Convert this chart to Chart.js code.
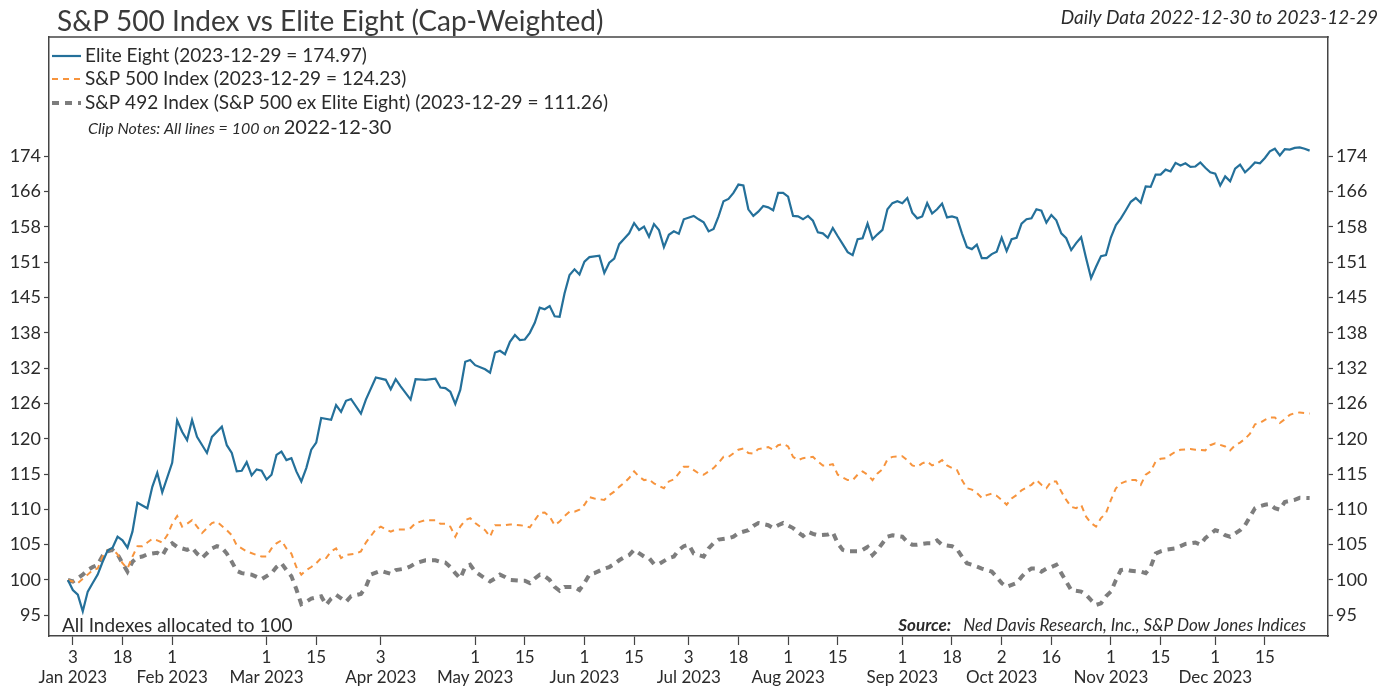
<!DOCTYPE html>
<html>
<head>
<meta charset="utf-8">
<script src="https://cdn.jsdelivr.net/npm/chart.js@4"></script>
<style>
  html, body { margin: 0; padding: 0; background: #fff; }
  #chart { display: block; }
</style>
</head>
<body>
<canvas id="chart" width="1383" height="686"></canvas>
<script>
// trading-day index (0 = 2022-12-30) and value
const eliteEight = [
  [0,100],[1,98.7],[2,98.1],[3,96.0],[4,98.5],[5,99.6],[6,100.7],[7,102.4],[8,103.9],[9,104.3],[10,105.8],[11,105.3],[12,104.3],[13,106.5],[14,110.6],[15,110.2],[16,109.8],[17,112.9],[18,115.0],[19,112.1],[21,116.5],[22,123.1],[23,121.3],[24,120.0],[25,123.2],[26,120.5],[28,118.0],[29,120.5],[31,122.1],[32,119.2],[33,118.0],[34,115.2],[35,115.3],[36,116.6],[37,114.6],[38,115.5],[39,115.3],[40,114.0],[41,114.7],[42,117.7],[43,118.2],[44,116.9],[45,117.2],[46,115.2],[47,113.7],[48,115.7],[49,118.5],[50,119.6],[51,123.5],[53,123.2],[54,125.6],[55,124.5],[56,126.3],[57,126.6],[59,124.2],[60,126.5],[62,130.2],
  [63,130.0],[64,129.8],[65,128.2],[66,129.9],[67,128.7],[69,126.5],[70,129.9],[72,129.8],[74,130.0],[75,128.5],[76,128.4],[77,127.8],[78,125.8],[79,128.1],[80,132.9],[81,133.2],[82,132.3],[84,131.6],[85,131.0],[86,134.5],[87,134.8],[88,134.2],[89,136.4],[90,137.6],[91,136.7],[92,136.8],[93,138.0],[94,139.8],[95,142.6],[96,142.3],[97,142.9],[98,141.0],[99,140.9],[100,145.3],[101,148.8],[102,149.9],[103,148.9],[104,151.4],[105,152.3],[107,152.6],[108,149.2],[109,151.2],[110,152.0],[111,154.9],[112,156.0],[113,157.1],[114,159.2],[115,157.8],[116,158.5],[117,156.4],[118,159.0],[119,157.8],[120,154.3],[121,156.8],[122,157.5],[123,157.0],[124,160.0],[126,160.7],[127,160.0],[128,159.4],[129,157.5],
  [130,158.0],[131,160.6],[132,163.8],[133,164.3],[134,165.6],[135,167.4],[136,167.2],[137,162.1],[138,160.7],[139,161.6],[140,162.8],[141,162.5],[142,161.9],[143,165.6],[144,165.6],[145,164.8],[146,160.7],[147,160.6],[148,160.0],[149,160.7],[150,159.7],[151,157.3],[152,157.1],[153,156.2],[154,158.2],[155,156.5],[156,154.9],[157,153.3],[158,152.7],[159,155.9],[160,156.1],[161,159.1],[162,155.9],[163,156.9],[164,157.8],[165,162.1],[166,163.4],[167,163.8],[168,163.4],[169,164.5],[170,161.4],[171,160.2],[172,160.6],[173,163.4],[174,161.2],[175,162.1],[176,163.3],[177,160.4],[178,160.6],[179,160.3],[180,157.1],[181,154.3],[182,153.9],[183,154.8],[184,152.1],[185,152.1],[186,152.9],[187,153.4],[188,156.2],[189,153.5],[190,155.9],[191,156.2],[192,159.1],[193,160.0],
  [194,160.2],[195,162.1],[196,161.8],[197,159.3],[198,160.9],[199,159.8],[200,157.1],[201,156.1],[202,153.7],[203,155.1],[204,156.3],[205,152.1],[206,148.2],[207,150.4],[208,152.5],[209,152.7],[210,156.3],[211,158.8],[212,160.2],[213,161.9],[214,163.7],[215,164.5],[216,163.5],[217,167.0],[218,166.9],[219,169.6],[220,169.6],[221,170.7],[222,170.3],[223,172.2],[224,171.6],[225,172.1],[226,171.3],[227,171.4],[228,172.3],[229,171.1],[230,170.1],[231,169.8],[232,167.2],[233,169.2],[234,168.1],[235,170.9],[236,171.8],[237,170.1],[238,171.1],[239,172.3],[240,172.1],[241,173.3],[242,174.8],[243,175.4],[244,173.9],[245,175.3],[246,175.2],[247,175.6],[248,175.7],[249,175.4],[250,174.97]
];

const sp500 = [
  [0,100],[2,99.6],[4,100.7],[5,101.3],[6,101.5],[7,103.1],[8,104.0],[9,104.1],[10,103.4],[11,102.2],[12,101.5],[13,103.1],[14,104.5],[15,104.5],[16,105.0],[17,105.5],[18,105.3],[19,105.0],[20,106.0],[21,107.6],[22,108.7],[23,107.2],[24,107.6],[25,108.1],[26,107.2],[27,106.3],[28,107.0],[29,107.7],[30,107.9],[32,106.7],[33,106.0],[34,104.6],[35,104.2],[36,103.8],[38,103.3],[39,103.1],[40,103.1],[41,104.2],[42,104.9],[43,105.3],[44,104.2],[45,103.5],[46,101.7],[47,100.7],[48,101.3],[49,101.7],[50,102.2],[51,102.9],[52,102.9],[53,103.8],[54,104.2],[55,102.9],[56,103.3],[58,103.5],[59,103.8],[60,105.0],[61,105.9],[62,106.8],
  [63,107.2],[64,106.8],[65,106.5],[66,106.8],[68,106.8],[69,107.0],[70,107.7],[71,107.9],[72,108.1],[74,108.1],[75,107.6],[76,107.6],[77,107.2],[78,105.8],[79,107.2],[80,108.1],[81,108.4],[82,107.7],[84,106.7],[85,105.8],[86,107.4],[87,107.4],[88,107.4],[89,107.5],[91,107.4],[92,107.3],[93,107.1],[94,108.1],[95,109.1],[96,109.2],[97,108.6],[98,107.4],[99,107.9],[100,108.7],[101,109.3],[102,109.3],[103,109.6],[104,110.3],[105,111.4],[106,111.2],[108,111.0],[109,111.7],[110,112.2],[111,112.9],[112,113.5],[113,114.2],[114,115.2],[115,114.4],[116,113.9],[117,114.0],[118,113.4],[120,112.7],[121,113.7],[122,114.0],[123,114.9],[124,115.9],[125,115.9],[127,114.9],[128,114.7],[129,115.2],
  [130,115.7],[131,116.5],[132,117.4],[133,117.4],[135,118.5],[136,118.7],[137,118.0],[138,117.9],[139,118.6],[141,118.9],[142,118.5],[143,119.2],[144,119.4],[145,119.0],[146,117.4],[147,116.9],[148,117.2],[150,117.4],[151,116.7],[152,116.1],[153,116.1],[154,116.3],[155,114.7],[157,113.9],[158,113.9],[159,114.7],[160,115.2],[161,114.7],[162,113.9],[163,114.9],[164,115.5],[165,117.0],[166,117.4],[168,117.5],[169,116.9],[170,116.1],[171,115.9],[172,116.4],[173,116.7],[174,116.1],[175,116.4],[176,116.9],[177,116.1],[178,115.7],[179,115.4],[180,113.9],[181,112.7],[182,112.5],[183,112.0],[184,111.3],[185,111.7],[186,111.9],[187,111.6],[188,111.0],[189,110.3],[190,111.2],[191,111.7],[192,112.4],
  [194,113.2],[195,113.9],[196,113.2],[197,112.7],[198,113.7],[199,113.7],[200,112.2],[201,111.0],[202,110.0],[203,109.8],[204,110.3],[205,108.6],[206,107.7],[207,107.2],[208,108.4],[209,109.1],[210,111.0],[211,112.7],[212,113.4],[213,113.7],[214,113.9],[215,113.9],[216,113.2],[217,114.7],[218,115.2],[219,116.7],[220,117.1],[221,117.2],[222,117.7],[223,118.2],[224,118.5],[226,118.6],[227,118.5],[229,118.4],[230,119.2],[231,119.5],[233,119.0],[234,118.4],[235,119.2],[236,119.6],[237,120.2],[238,121.0],[239,122.5],[240,122.7],[241,123.2],[242,123.6],[243,123.6],[244,122.7],[245,123.3],[246,124.0],[247,124.3],[248,124.4],[250,124.23]
];

const sp492 = [
  [0,100],[1,99.8],[3,100.7],[4,101.3],[5,101.7],[6,102.0],[7,103.2],[8,103.8],[9,104.0],[10,103.4],[11,102.2],[12,101.1],[13,102.4],[14,103.0],[15,103.1],[16,103.4],[18,103.6],[19,103.2],[20,104.4],[21,104.9],[22,104.4],[24,104.0],[25,104.3],[26,103.5],[27,102.9],[29,104.2],[30,104.5],[31,104.3],[32,103.5],[33,102.4],[34,101.2],[35,100.9],[37,100.7],[38,100.4],[39,100.1],[41,100.9],[42,101.7],[43,102.2],[44,101.3],[45,100.5],[46,98.8],[47,96.9],[48,97.2],[49,97.6],[51,97.9],[52,96.8],[53,97.6],[54,98.1],[56,97.2],[57,97.9],[59,98.2],[60,99.1],[61,100.7],
  [63,101.2],[64,101.0],[65,100.8],[66,101.3],[68,101.5],[69,101.8],[70,102.2],[72,102.6],[74,102.6],[75,102.4],[76,102.3],[77,101.7],[78,100.9],[79,100.2],[80,101.7],[81,102.0],[82,101.1],[84,100.2],[85,99.8],[86,100.2],[87,100.7],[88,100.4],[89,100.0],[91,99.9],[92,99.9],[93,99.6],[94,100.2],[95,100.7],[96,100.5],[97,100.0],[98,99.1],[99,98.6],[100,99.1],[102,99.1],[103,98.7],[104,99.6],[105,100.7],[106,100.9],[107,101.2],[108,101.5],[109,101.7],[110,102.1],[111,102.6],[112,103.0],[113,103.3],[114,104.0],[116,103.1],[117,102.9],[118,102.1],[119,102.1],[121,102.9],[122,103.1],[123,104.0],[124,104.5],[125,104.7],[126,103.5],[128,103.1],[129,104.2],
  [130,104.9],[131,105.4],[133,105.6],[134,105.8],[135,106.3],[137,106.7],[138,107.3],[139,107.7],[141,107.4],[142,107.0],[143,107.4],[144,107.7],[146,107.0],[147,106.4],[148,105.9],[149,106.5],[150,106.2],[151,106.0],[153,106.1],[154,106.4],[155,104.9],[156,104.0],[157,103.8],[159,103.8],[160,104.0],[161,104.4],[162,103.3],[163,104.0],[164,104.9],[165,105.8],[166,106.0],[168,105.8],[169,105.1],[170,104.7],[171,104.7],[173,104.9],[174,104.9],[175,105.3],[176,104.7],[178,104.5],[179,104.1],[180,103.1],[181,102.2],[182,102.0],[184,101.5],[185,101.3],[186,101.1],[187,100.4],[188,99.6],[189,99.1],[191,99.6],[192,100.4],[193,101.1],
  [194,101.5],[195,101.5],[196,101.1],[197,101.5],[198,101.7],[199,102.0],[200,100.9],[201,99.8],[202,98.7],[204,98.5],[205,98.1],[206,97.4],[207,96.8],[208,97.0],[209,97.9],[210,98.5],[211,100.0],[212,101.3],[213,101.4],[214,101.2],[216,101.1],[217,100.9],[218,101.7],[219,103.5],[220,103.8],[221,104.0],[223,104.2],[224,104.5],[225,104.8],[227,105.0],[228,104.7],[229,105.6],[231,106.7],[232,106.5],[233,106.0],[234,105.8],[236,106.7],[237,107.4],[238,108.6],[239,109.8],[240,110.1],[241,110.3],[242,110.4],[243,109.8],[244,109.6],[245,110.7],[247,111.0],[248,111.3],[250,111.26]
];

const seriesLabels = [
  'Elite Eight (2023-12-29 = 174.97)',
  'S&P 500 Index (2023-12-29 = 124.23)',
  'S&P 492 Index (S&P 500 ex Elite Eight) (2023-12-29 = 111.26)'
];

// x ticks: trading-day index of each labelled date
const xTickDays = [1, 11, 21, 40, 50, 63, 82, 92, 104, 114, 125, 135, 145, 155, 168, 178, 188, 198, 210, 220, 231, 241];
const xTickDayLabels = ['3', '18', '1', '1', '15', '3', '1', '15', '1', '15', '3', '18', '1', '15', '1', '18', '2', '16', '1', '15', '1', '15'];
const xTickMonthLabels = ['Jan 2023', '', 'Feb 2023', 'Mar 2023', '', 'Apr 2023', 'May 2023', '', 'Jun 2023', '', 'Jul 2023', '', 'Aug 2023', '', 'Sep 2023', '', 'Oct 2023', '', 'Nov 2023', '', 'Dec 2023', ''];

// y ticks on the log axis: evenly spaced steps from 100
const yTickLabels = ['95', '100', '105', '110', '115', '120', '126', '132', '138', '145', '151', '158', '166', '174'];
const yTickStep = 1.0471;

const TEXT = '#2b2b2b';
const AXIS = '#444';
const FONT = 'Lato, "Open Sans", sans-serif';

const toPoints = (rows) => rows.map(([x, y]) => ({ x, y }));

const yTicks = (scale) => {
  scale.ticks = yTickLabels.map((_, k) => ({ value: 100 * Math.pow(yTickStep, k - 1) }));
};

const yAxis = (position, width) => ({
  type: 'logarithmic',
  position,
  min: 92.96,
  max: 202.9,
  afterBuildTicks: yTicks,
  afterFit: (scale) => { scale.width = width; },
  border: { display: true, color: AXIS, width: 1.5 },
  grid: { drawOnChartArea: false, tickLength: 5, tickColor: AXIS, tickWidth: 1.2 },
  ticks: {
    autoSkip: false,
    padding: 3,
    color: TEXT,
    font: { family: FONT, size: 18 },
    callback: (value, index) => yTickLabels[index],
  },
});

const notesPlugin = {
  id: 'notes',
  afterDraw(chart) {
    const { ctx, chartArea } = chart;
    ctx.save();

    // top edge of the frame
    ctx.strokeStyle = AXIS;
    ctx.lineWidth = 1.5;
    ctx.beginPath();
    ctx.moveTo(chartArea.left - 0.75, chartArea.top);
    ctx.lineTo(chartArea.right + 0.75, chartArea.top);
    ctx.stroke();

    ctx.textBaseline = 'alphabetic';
    ctx.fillStyle = '#3a3a3a';
    ctx.font = `28px ${FONT}`;
    ctx.textAlign = 'left';
    ctx.fillText('S&P 500 Index vs Elite Eight (Cap-Weighted)', 57, 31);

    ctx.fillStyle = TEXT;
    ctx.font = `italic 19px ${FONT}`;
    ctx.textAlign = 'right';
    ctx.fillText('Daily Data 2022-12-30 to 2023-12-29', 1378, 24);

    // legend
    const rows = [62, 85, 109];
    chart.data.datasets.forEach((ds, i) => {
      const y = rows[i] - 6;
      ctx.strokeStyle = ds.borderColor;
      ctx.lineWidth = ds.borderWidth;
      ctx.setLineDash(ds.borderDash || []);
      ctx.beginPath();
      ctx.moveTo(52, y);
      ctx.lineTo(81, y);
      ctx.stroke();
      ctx.setLineDash([]);
      ctx.fillStyle = TEXT;
      ctx.font = `19px ${FONT}`;
      ctx.textAlign = 'left';
      ctx.fillText(seriesLabels[i], 85, rows[i]);
    });

    ctx.font = `italic 16px ${FONT}`;
    ctx.fillText('Clip Notes: All lines = 100 on', 88, 134);
    const w = ctx.measureText('Clip Notes: All lines = 100 on ').width;
    ctx.font = `20px ${FONT}`;
    ctx.fillText('2022-12-30', 88 + w, 134);

    ctx.font = `19px ${FONT}`;
    ctx.fillText('All Indexes allocated to 100', 62, 632);

    ctx.textAlign = 'right';
    ctx.font = `italic 17px ${FONT}`;
    const src = 'Ned Davis Research, Inc., S&P Dow Jones Indices';
    ctx.fillText(src, 1306, 631);
    const sw = ctx.measureText(src).width;
    ctx.font = `bold italic 17px ${FONT}`;
    ctx.fillText('Source:', 1306 - sw - 12, 631);

    ctx.restore();
  },
};

const chart = new Chart(document.getElementById('chart').getContext('2d'), {
  type: 'line',
  data: {
    datasets: [
      {
        label: seriesLabels[0],
        data: toPoints(eliteEight),
        borderColor: '#24709a',
        borderWidth: 2.2,
      },
      {
        label: seriesLabels[1],
        data: toPoints(sp500),
        borderColor: '#f7943d',
        borderWidth: 2,
        borderDash: [6, 5],
      },
      {
        label: seriesLabels[2],
        data: toPoints(sp492),
        borderColor: '#7d7d7d',
        borderWidth: 4,
        borderDash: [7, 6],
      },
    ],
  },
  options: {
    responsive: false,
    animation: false,
    devicePixelRatio: 1,
    layout: { padding: { top: 37, left: 0, right: 0, bottom: 0 } },
    elements: {
      point: { radius: 0, hoverRadius: 0 },
      line: { tension: 0, borderCapStyle: 'butt' },
    },
    scales: {
      x: {
        type: 'linear',
        position: 'bottom',
        min: -3.8,
        max: 253.7,
        afterBuildTicks: (scale) => {
          scale.ticks = xTickDays.map((value) => ({ value }));
        },
        afterFit: (scale) => { scale.height = 50; },
        border: { display: true, color: AXIS, width: 1.5 },
        grid: { drawOnChartArea: false, tickLength: 9, tickColor: AXIS, tickWidth: 1.2 },
        ticks: {
          autoSkip: false,
          maxRotation: 0,
          padding: 2,
          color: TEXT,
          font: { family: FONT, size: 17, lineHeight: 1.2 },
          callback: (value, index) => xTickMonthLabels[index]
            ? [xTickDayLabels[index], xTickMonthLabels[index]]
            : [xTickDayLabels[index], ''],
        },
      },
      y: yAxis('left', 49),
      y2: yAxis('right', 55),
    },
    plugins: {
      legend: { display: false },
      tooltip: { enabled: false },
      title: { display: false },
    },
  },
  plugins: [notesPlugin],
});
</script>
</body>
</html>
